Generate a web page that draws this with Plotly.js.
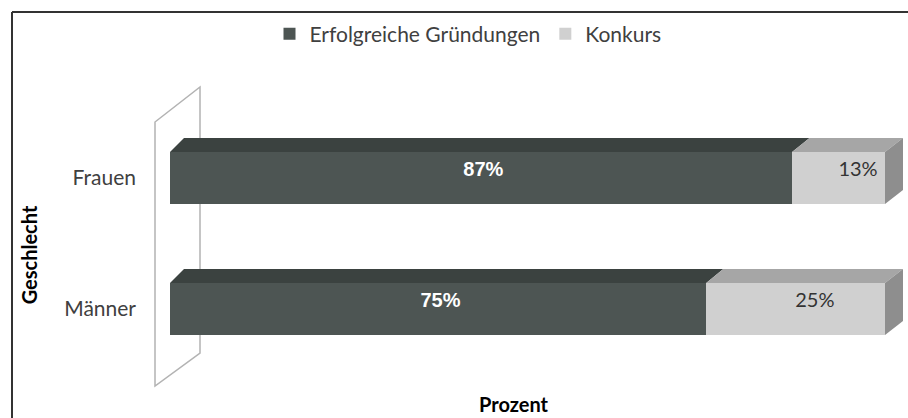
<!DOCTYPE html>
<html>
<head>
<meta charset="utf-8">
<script src="https://cdn.plot.ly/plotly-3.0.1.min.js"></script>
<style>html,body{margin:0;padding:0;background:#fff;}#chart{width:908px;height:418px;}</style>
</head>
<body>
<div id="chart"></div>
<script>
// ---- data ----
const categories = ['Männer', 'Frauen'];
const erfolgreich = [75, 87];
const konkurs = [25, 13];
const seriesNames = ['Erfolgreiche Gründungen', 'Konkurs'];
const xTitle = 'Prozent';
const yTitle = 'Geschlecht';

// ---- style / layout constants ----
const FIG_W = 908, FIG_H = 418;
const M = {l: 119, r: 0, t: 122, b: 30};
const PX_X0 = 170, PX_PER_PCT = 7.15;      // 0% at x=170px, 100% at 885px
const PX_CAT0 = 309, PX_PER_CAT = 131;     // category centres
const BAR_W = 52 / PX_PER_CAT;
const DEPTH_DY = 14 / PX_PER_CAT;
function depthDX(x) { return (14 + 0.04 * x) / PX_PER_PCT; }

const darkFront = '#4d5553', darkTop = '#3b4240';
const lightFront = '#d0d0d0', lightTop = '#a6a6a6', sideCol = '#8e8e8e';
const FONT = 'Lato, "Open Sans", sans-serif';

const xRange = [(M.l - PX_X0) / PX_PER_PCT, (FIG_W - M.r - PX_X0) / PX_PER_PCT];
const yRange = [(PX_CAT0 - (FIG_H - M.b)) / PX_PER_CAT, (PX_CAT0 - M.t) / PX_PER_CAT];
const PW = FIG_W - M.l - M.r, PH = FIG_H - M.t - M.b;
const px2paper = px => (px - M.l) / PW;
const py2paper = py => 1 - (py - M.t) / PH;

const yIdx = categories.map((c, i) => i);

const traces = [
  {type: 'bar', orientation: 'h', name: seriesNames[0], y: yIdx, x: erfolgreich,
   width: BAR_W, marker: {color: darkFront, line: {width: 0}}, hoverinfo: 'x+name'},
  {type: 'bar', orientation: 'h', name: seriesNames[1], y: yIdx, x: konkurs,
   width: BAR_W, marker: {color: lightFront, line: {width: 0}}, hoverinfo: 'x+name'}
];

// labels centred on the 3-D boxes
const darkLblX = erfolgreich.map(v => v / 2 + depthDX(v / 2) * 0.15);
const lightLblX = konkurs.map((v, i) => erfolgreich[i] + v / 2 + depthDX(erfolgreich[i] + v / 2) * 1.1);
const lblY = yIdx.map(i => i + DEPTH_DY / 2);
traces.push({type: 'scatter', mode: 'text', x: darkLblX, y: lblY,
  text: erfolgreich.map(v => v + '%'), showlegend: false, hoverinfo: 'skip', cliponaxis: false,
  textfont: {family: '"Liberation Sans", Arial, sans-serif', size: 20, color: '#ffffff', weight: 'bold'}});
traces.push({type: 'scatter', mode: 'text', x: lightLblX, y: lblY,
  text: konkurs.map(v => v + '%'), showlegend: false, hoverinfo: 'skip', cliponaxis: false,
  textfont: {family: FONT, size: 20, color: '#333333'}});

// 3-D faces
const shapes = [];
function poly(pts, fill, layer) {
  let d = 'M' + pts.map(p => p[0] + ',' + p[1]).join('L') + 'Z';
  shapes.push({type: 'path', xref: 'x', yref: 'y', path: d, fillcolor: fill,
               line: {width: 0}, layer: layer || 'above'});
}
// back wall (outline only), positioned in paper space so it is not clipped
shapes.push({type: 'path', xref: 'paper', yref: 'paper', layer: 'below',
  path: 'M' + px2paper(155) + ',' + py2paper(122) + 'L' + px2paper(200) + ',' + py2paper(87) +
        'L' + px2paper(200) + ',' + py2paper(353) + 'L' + px2paper(155) + ',' + py2paper(386) + 'Z',
  line: {color: '#b3b3b3', width: 1.5}, fillcolor: 'rgba(0,0,0,0)'});

yIdx.forEach(i => {
  const top = i + BAR_W / 2, bot = i - BAR_W / 2;
  const segs = [[0, erfolgreich[i], darkTop], [erfolgreich[i], erfolgreich[i] + konkurs[i], lightTop]];
  segs.forEach(s => {
    const a = s[0], b = s[1];
    poly([[a, top], [b, top], [b + depthDX(b), top + DEPTH_DY], [a + depthDX(a), top + DEPTH_DY]], s[2]);
  });
  const e = erfolgreich[i] + konkurs[i];
  const dx = depthDX(e);
  poly([[e, bot], [e, top], [e + dx, top + DEPTH_DY], [e + dx, bot + DEPTH_DY]], sideCol);
});

// chart frame (top and left edges)
shapes.push({type: 'line', xref: 'paper', yref: 'paper', x0: px2paper(12), x1: px2paper(FIG_W + 5),
  y0: py2paper(12), y1: py2paper(12), line: {color: '#333333', width: 2}});
shapes.push({type: 'line', xref: 'paper', yref: 'paper', x0: px2paper(12), x1: px2paper(12),
  y0: py2paper(12), y1: py2paper(FIG_H + 5), line: {color: '#333333', width: 2}});

const layout = {
  width: FIG_W, height: FIG_H,
  margin: M,
  paper_bgcolor: '#ffffff', plot_bgcolor: 'rgba(0,0,0,0)',
  barmode: 'stack',
  font: {family: FONT, color: '#404040'},
  showlegend: true,
  legend: {orientation: 'h', xref: 'container', yref: 'container',
    x: 468 / FIG_W, xanchor: 'center', y: 1 - 34 / FIG_H, yanchor: 'middle',
    bgcolor: 'rgba(0,0,0,0)',
    font: {family: FONT, size: 21, color: '#404040'}, traceorder: 'normal', itemclick: false},
  xaxis: {range: xRange, showgrid: false, zeroline: false, showline: false,
    showticklabels: false, ticks: '', fixedrange: true,
    title: {text: xTitle, font: {family: FONT, size: 20, color: '#000000', weight: 'bold'}, standoff: 9}},
  yaxis: {range: yRange, anchor: 'free', position: px2paper(136), showgrid: false, zeroline: false,
    showline: false, ticks: '', tickmode: 'array', tickvals: yIdx, ticktext: categories,
    tickfont: {family: FONT, size: 21, color: '#404040'}, fixedrange: true,
    title: {text: yTitle, font: {family: FONT, size: 20, color: '#000000', weight: 'bold'}, standoff: 20}},
  shapes: shapes
};

Plotly.newPlot('chart', traces, layout, {displayModeBar: false, staticPlot: true});
</script>
</body>
</html>
